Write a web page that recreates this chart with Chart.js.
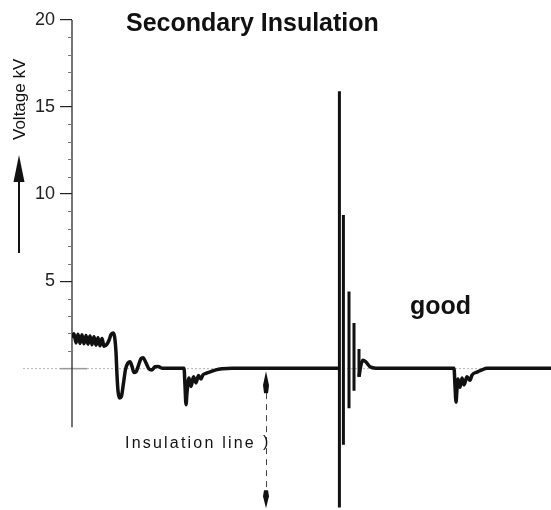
<!DOCTYPE html>
<html>
<head>
<meta charset="utf-8">
<script src="https://cdn.jsdelivr.net/npm/chart.js@4/dist/chart.umd.min.js"></script>
<style>
  html, body { margin: 0; padding: 0; background: #fff; }
  #wrap { position: relative; width: 551px; height: 510px; }
</style>
</head>
<body>
<div id="wrap"><canvas id="c" width="551" height="510"></canvas></div>
<script>
// ---- data (time in ms, voltage in kV) ----
const traceTime = [
  0, 0.1, 0.2, 0.3, 0.4, 0.5, 0.6, 0.7, 0.8, 0.9, 1.0, 1.1, 1.2, 1.3, 1.4, 1.5, 1.6,
  1.75, 1.85, 1.95, 2.05, 2.13, 2.2, 2.25, 2.3, 2.38, 2.47, 2.57, 2.68, 2.8, 2.9, 3.0, 3.1, 3.2, 3.32, 3.45, 3.55, 3.7, 3.85, 4.0, 4.15, 4.3, 4.5,
  5.6, 5.65, 5.7, 5.75, 5.85, 5.95, 6.075, 6.2, 6.325, 6.45, 6.55, 6.7, 6.9, 7.2, 7.5, 8.0,
  13.35, 13.8,
  14.35, 14.45, 14.55, 14.7, 14.9, 15.2,
  19.1, 19.15, 19.2, 19.25, 19.3, 19.4, 19.5, 19.6, 19.75, 19.9, 20.0, 20.25, 20.5, 20.75, 23.95
];
const traceVoltage = [
  1.75, 1.98, 1.45, 1.95, 1.42, 1.92, 1.40, 1.88, 1.38, 1.84, 1.35, 1.80, 1.32, 1.75, 1.28, 1.70, 1.26,
  1.38, 1.6, 1.92, 2.02, 1.8, 0.9, -0.4, -1.3, -1.72, -1.62, -0.9, -0.05, 0.3, 0.36, 0.1, -0.25, -0.22, 0.15, 0.55, 0.6, 0.3, -0.05, -0.1, 0.08, 0.1, 0.0,
  0, -1.0, -2.1, -1.4, -0.57, -1.05, -0.5, -0.85, -0.42, -0.62, -0.38, -0.3, -0.22, -0.1, -0.04, 0,
  0, null,
  -0.5, 0.2, 0.46, 0.35, 0.08, 0,
  0, -1.0, -1.95, -1.2, -0.63, -1.1, -0.57, -0.97, -0.5, -0.7, -0.4, -0.23, -0.1, 0, 0
];
// ignition spike: damped high-frequency oscillation strokes
const spikeTime = [13.37, 13.57, 13.85, 14.1, 14.35];
const spikeHigh = [15.9, 8.8, 4.4, 2.6, 1.1];
const spikeLow  = [-8.0, -4.4, -2.3, -1.3, -0.5];
const yTickValues = [5, 10, 15, 20];
const minorTickValues = [1, 2, 3, 4, 6, 7, 8, 9, 11, 12, 13, 14, 16, 17, 18, 19];
const insulationTime = 9.7;

const tracePoints = traceTime.map((t, i) => ({ x: t, y: traceVoltage[i] }));
const spikePoints = [];
spikeTime.forEach((t, i) => {
  spikePoints.push({ x: t, y: spikeHigh[i] });
  spikePoints.push({ x: t, y: spikeLow[i] });
  spikePoints.push({ x: t + 0.01, y: null });
});

const decor = {
  id: 'decor',
  beforeDatasetsDraw(chart) {
    const ctx = chart.ctx;
    const xs = chart.scales.x, ys = chart.scales.y;
    const ax = chart.chartArea.left;
    const y0 = ys.getPixelForValue(0);
    ctx.save();
    // zero reference line (dotted)
    ctx.strokeStyle = '#b5b5b5';
    ctx.lineWidth = 1;
    ctx.setLineDash([2, 2]);
    ctx.beginPath(); ctx.moveTo(23, y0 + 0.5); ctx.lineTo(551, y0 + 0.5); ctx.stroke();
    ctx.setLineDash([]);
    ctx.strokeStyle = '#9a9a9a';
    ctx.lineWidth = 1.5;
    ctx.beginPath(); ctx.moveTo(60, y0 + 0.5); ctx.lineTo(87, y0 + 0.5); ctx.stroke();
    // axis line
    ctx.strokeStyle = '#2a2a2a';
    ctx.lineWidth = 1.3;
    ctx.beginPath();
    ctx.moveTo(ax, ys.getPixelForValue(20));
    ctx.lineTo(ax, ys.getPixelForValue(-3.4));
    ctx.stroke();
    // minor ticks
    ctx.strokeStyle = '#777';
    ctx.lineWidth = 1;
    minorTickValues.forEach(v => {
      const py = Math.round(ys.getPixelForValue(v)) + 0.5;
      ctx.beginPath(); ctx.moveTo(ax - 4, py); ctx.lineTo(ax, py); ctx.stroke();
    });
    // insulation line annotation
    const ix = xs.getPixelForValue(insulationTime);
    const top = y0 + 3;
    const bot = ys.getPixelForValue(-8.05);
    ctx.fillStyle = '#111';
    ctx.beginPath();
    ctx.moveTo(ix, top); ctx.lineTo(ix + 3, top + 14); ctx.lineTo(ix + 2, top + 22);
    ctx.lineTo(ix - 2, top + 22); ctx.lineTo(ix - 3, top + 14); ctx.closePath(); ctx.fill();
    ctx.beginPath();
    ctx.moveTo(ix, bot); ctx.lineTo(ix + 3, bot - 12); ctx.lineTo(ix + 2, bot - 18);
    ctx.lineTo(ix - 2, bot - 18); ctx.lineTo(ix - 3, bot - 12); ctx.closePath(); ctx.fill();
    ctx.strokeStyle = '#444';
    ctx.lineWidth = 1;
    ctx.setLineDash([6, 5]);
    ctx.beginPath(); ctx.moveTo(ix + 0.5, top + 22); ctx.lineTo(ix + 0.5, bot - 18); ctx.stroke();
    ctx.setLineDash([]);
    ctx.restore();
  },
  afterDraw(chart) {
    const ctx = chart.ctx;
    ctx.save();
    ctx.fillStyle = '#111';
    ctx.textBaseline = 'alphabetic';
    // title
    ctx.font = 'bold 25px "Liberation Sans", Arial, sans-serif';
    ctx.textAlign = 'left';
    ctx.fillText('Secondary Insulation', 126, 31);
    // good
    ctx.font = 'bold 25px "Liberation Sans", Arial, sans-serif';
    ctx.fillText('good', 410, 314);
    // insulation line text
    ctx.font = '16px "Liberation Sans", Arial, sans-serif';
    ctx.letterSpacing = '2.2px';
    ctx.fillText('Insulation line', 125, 448);
    ctx.letterSpacing = '0px';
    ctx.fillText(')', 263, 447);
    // y axis title (rotated)
    ctx.save();
    ctx.translate(25, 140);
    ctx.rotate(-Math.PI / 2);
    ctx.font = '17px "Liberation Sans", Arial, sans-serif';
    ctx.fillText('Voltage kV', 0, 0);
    ctx.restore();
    // arrow
    ctx.beginPath();
    ctx.moveTo(19, 155); ctx.lineTo(24.5, 182); ctx.lineTo(13.5, 182); ctx.closePath(); ctx.fill();
    ctx.strokeStyle = '#111';
    ctx.lineWidth = 2;
    ctx.beginPath(); ctx.moveTo(19, 180); ctx.lineTo(19, 253); ctx.stroke();
    ctx.restore();
  }
};

new Chart(document.getElementById('c'), {
  type: 'line',
  data: {
    datasets: [
      {
        label: 'trace',
        data: tracePoints,
        borderColor: '#111',
        borderWidth: 3.5,
        pointRadius: 0,
        cubicInterpolationMode: 'monotone',
        spanGaps: false,
        fill: false
      },
      {
        label: 'spike',
        data: spikePoints,
        borderColor: '#111',
        borderWidth: 3,
        pointRadius: 0,
        tension: 0,
        spanGaps: false,
        fill: false
      }
    ]
  },
  options: {
    responsive: false,
    animation: false,
    devicePixelRatio: 1,
    layout: { padding: { top: 20, bottom: 0, left: 0, right: 0 } },
    plugins: { legend: { display: false }, tooltip: { enabled: false }, title: { display: false } },
    scales: {
      x: { type: 'linear', min: 0, max: 23.95, display: false },
      y: {
        type: 'linear', min: -8.15, max: 20,
        afterFit(s) { s.width = 72; s.paddingTop = 0; s.paddingBottom = 0; },
        afterBuildTicks(s) { s.ticks = yTickValues.map(v => ({ value: v })); },
        ticks: { color: '#222', font: { family: '"Liberation Sans", Arial, sans-serif', size: 18 }, padding: 5 },
        grid: { drawOnChartArea: false, drawTicks: true, tickLength: 12, color: '#222', lineWidth: 1.2 },
        border: { display: false }
      }
    }
  },
  plugins: [decor]
});
</script>
</body>
</html>
